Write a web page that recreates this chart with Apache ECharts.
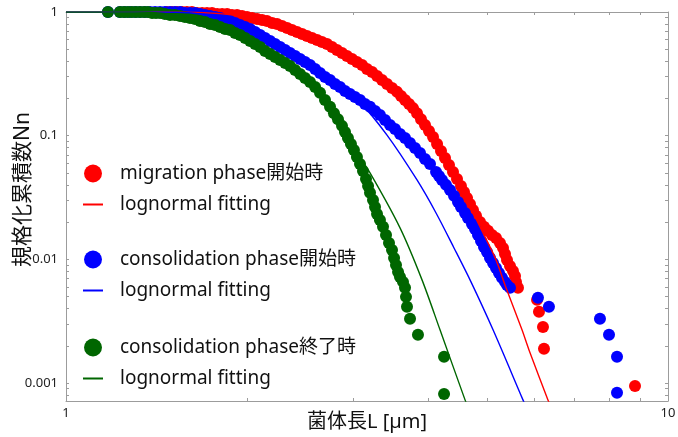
<!DOCTYPE html>
<html>
<head>
<meta charset="utf-8">
<title>規格化累積数</title>
<script src="https://cdn.jsdelivr.net/npm/echarts@6/dist/echarts.min.js"></script>
<style>
  html, body { margin: 0; padding: 0; background: #fff; }
  #chart { width: 678px; height: 437px; }
</style>
</head>
<body>
<div id="chart"></div>
<script>
// [L (µm), Nn]
const migrationStart = [
  [1.471, 1], [1.500, 1], [1.529, 1], [1.559, 1], [1.588, 1], [1.619, 1], [1.651, 0.981], [1.683, 0.981],
  [1.715, 0.981], [1.748, 0.981], [1.783, 0.963], [1.817, 0.963], [1.852, 0.963], [1.887, 0.946], [1.924, 0.946],
  [1.961, 0.928], [1.999, 0.911], [2.038, 0.894], [2.077, 0.878], [2.117, 0.862], [2.157, 0.846], [2.200, 0.815],
  [2.242, 0.800], [2.285, 0.770], [2.330, 0.742], [2.374, 0.715], [2.420, 0.689], [2.467, 0.664], [2.514, 0.640],
  [2.563, 0.616], [2.613, 0.594], [2.662, 0.572], [2.714, 0.551], [2.766, 0.521], [2.819, 0.493], [2.874, 0.466],
  [2.929, 0.441], [2.986, 0.417], [3.043, 0.394], [3.103, 0.373], [3.162, 0.346], [3.224, 0.327], [3.286, 0.304],
  [3.349, 0.282], [3.414, 0.262], [3.480, 0.243], [3.547, 0.226], [3.602, 0.209], [3.657, 0.194], [3.714, 0.180],
  [3.771, 0.167], [3.829, 0.152], [3.888, 0.136], [3.948, 0.122], [4.009, 0.109], [4.071, 0.0977], [4.134, 0.0857],
  [4.197, 0.0752], [4.262, 0.0660], [4.327, 0.0579], [4.394, 0.0509], [4.462, 0.0447], [4.530, 0.0392],
  [4.583, 0.0351], [4.636, 0.0314], [4.689, 0.0280], [4.743, 0.0251], [4.798, 0.0225], [4.872, 0.0200],
  [4.947, 0.0183], [5.023, 0.0170], [5.101, 0.0157], [5.180, 0.0149], [5.259, 0.01357], [5.320, 0.01236],
  [5.361, 0.01105], [5.402, 0.00989], [5.464, 0.00884], [5.527, 0.00806], [5.570, 0.00734], [5.591, 0.00657],
  [5.634, 0.00588], [6.059, 0.00470], [6.105, 0.00376], [6.199, 0.00284], [6.223, 0.00189], [8.814, 0.000947]
]
const consolidationStart = [
  [1.174, 1], [1.229, 1], [1.253, 1], [1.277, 1], [1.302, 1], [1.327, 1], [1.353, 1], [1.379, 1], [1.406, 1],
  [1.433, 1], [1.460, 1], [1.489, 1], [1.517, 1], [1.547, 1], [1.576, 0.981], [1.607, 0.981], [1.638, 0.981],
  [1.670, 0.963], [1.702, 0.946], [1.735, 0.928], [1.769, 0.911], [1.803, 0.894], [1.838, 0.862], [1.873, 0.846],
  [1.909, 0.815], [1.946, 0.785], [1.984, 0.756], [2.022, 0.728], [2.061, 0.689], [2.101, 0.652], [2.141, 0.616],
  [2.183, 0.583], [2.225, 0.551], [2.268, 0.521], [2.312, 0.493], [2.356, 0.466], [2.402, 0.441], [2.448, 0.417],
  [2.495, 0.394], [2.543, 0.373], [2.593, 0.346], [2.642, 0.321], [2.693, 0.298], [2.745, 0.282], [2.798, 0.262],
  [2.852, 0.247], [2.907, 0.230], [2.963, 0.217], [3.020, 0.205], [3.079, 0.194], [3.138, 0.180], [3.199, 0.171],
  [3.261, 0.158], [3.323, 0.147], [3.388, 0.134], [3.453, 0.122], [3.520, 0.113], [3.588, 0.103], [3.657, 0.0958],
  [3.728, 0.0873], [3.800, 0.0795], [3.873, 0.0724], [3.948, 0.0648], [4.024, 0.0590], [4.118, 0.0509],
  [4.165, 0.0472], [4.213, 0.0438], [4.278, 0.0400], [4.344, 0.0364], [4.411, 0.0326], [4.479, 0.0291],
  [4.530, 0.0265], [4.601, 0.0237], [4.653, 0.0216], [4.725, 0.0193], [4.780, 0.0176], [4.835, 0.0157],
  [4.891, 0.01409], [4.947, 0.01259], [5.004, 0.01147], [5.062, 0.01027], [5.121, 0.00935], [5.180, 0.00852],
  [5.239, 0.00776], [5.299, 0.00708], [5.361, 0.00657], [5.402, 0.00621], [5.464, 0.00588],
  [6.081, 0.00488], [6.342, 0.00413], [7.709, 0.00330], [7.980, 0.00245], [8.228, 0.00163], [8.228, 0.000832]
]
const consolidationEnd = [
  [1.174, 1], [1.229, 1], [1.248, 1], [1.267, 1], [1.287, 1], [1.307, 1], [1.327, 1], [1.348, 1], [1.368, 1],
  [1.390, 0.981], [1.411, 0.981], [1.433, 0.981], [1.460, 0.963], [1.489, 0.946], [1.517, 0.946], [1.547, 0.928],
  [1.576, 0.911], [1.607, 0.894], [1.638, 0.878], [1.670, 0.846], [1.702, 0.830], [1.735, 0.800], [1.769, 0.785],
  [1.803, 0.756], [1.838, 0.728], [1.873, 0.715], [1.909, 0.676], [1.946, 0.652], [1.984, 0.616], [2.022, 0.583],
  [2.061, 0.551], [2.101, 0.521], [2.141, 0.484], [2.183, 0.457], [2.225, 0.433], [2.268, 0.409], [2.312, 0.387],
  [2.356, 0.366], [2.402, 0.340], [2.448, 0.315], [2.495, 0.293], [2.543, 0.272], [2.593, 0.247], [2.642, 0.222],
  [2.693, 0.194], [2.745, 0.171], [2.787, 0.152], [2.830, 0.136], [2.874, 0.120], [2.907, 0.107], [2.940, 0.0958],
  [2.974, 0.0857], [3.008, 0.0766], [3.043, 0.0672], [3.079, 0.0590], [3.114, 0.0518], [3.150, 0.0447],
  [3.175, 0.0392], [3.199, 0.0345], [3.236, 0.0302], [3.261, 0.0265], [3.286, 0.0233], [3.323, 0.0208],
  [3.362, 0.0183], [3.401, 0.0157], [3.440, 0.01357], [3.480, 0.01191], [3.507, 0.01027], [3.533, 0.00901],
  [3.561, 0.00791], [3.588, 0.00721], [3.629, 0.00657], [3.657, 0.00588], [3.671, 0.00497], [3.685, 0.00413],
  [3.728, 0.00330], [3.843, 0.00245], [4.246, 0.00163], [4.246, 0.000816]
]

// lognormal fitting curves
const migrationFit = [
  [1, 1], [1.4, 1], [1.6, 0.998], [1.8, 0.97], [2.0, 0.91], [2.2, 0.815], [2.47, 0.664], [2.76, 0.52],
  [3.1, 0.373], [3.48, 0.243], [3.83, 0.152], [4.2, 0.077], [4.51, 0.039], [4.95, 0.0157], [5.18, 0.0099],
  [5.382, 0.00588], [5.721, 0.00269], [5.876, 0.00185], [6.318, 0.00073], [6.36, 0.00068]
]
const consolidationStartFit = [
  [1, 1], [1.4, 0.999], [1.6, 0.985], [1.8, 0.895], [2.0, 0.745], [2.2, 0.575], [2.45, 0.42], [2.75, 0.28],
  [3.08, 0.185], [3.414, 0.101], [3.829, 0.0438], [4.118, 0.0237], [4.411, 0.01236], [4.707, 0.00657],
  [5.121, 0.00269], [5.742, 0.00073], [5.78, 0.00068]
]
const consolidationEndFit = [
  [1, 1], [1.3, 0.999], [1.45, 0.975], [1.6, 0.905], [1.8, 0.765], [2.0, 0.60], [2.2, 0.45], [2.45, 0.315],
  [2.75, 0.171], [2.97, 0.088], [3.199, 0.050], [3.588, 0.01796], [3.903, 0.00682], [4.181, 0.00269],
  [4.601, 0.00073], [4.63, 0.00068]
]

const xLabelValues = [1, 10]
const xTickValues = [1, 2, 3, 4, 5, 6, 7, 8, 9, 10]
const yLabelValues = [0.001, 0.01, 0.1, 1]
const yTickValues = [
  0.0008, 0.0009, 0.001, 0.002, 0.003, 0.004, 0.005, 0.006, 0.007, 0.008, 0.009,
  0.01, 0.02, 0.03, 0.04, 0.05, 0.06, 0.07, 0.08, 0.09,
  0.1, 0.2, 0.3, 0.4, 0.5, 0.6, 0.7, 0.8, 0.9, 1
]

const FONT = "'Noto Sans', 'Noto Sans CJK JP', sans-serif"
const GRAY = '#9c9c9c'
const RED = '#ff0000'
const BLUE = '#0000ff'
const GREEN = '#006600'

const legendNames = {
  fitM: 'lognormal fitting',
  fitCS: 'lognormal fitting',
  fitCE: 'lognormal fitting'
}

function frameAxis(extra) {
  return Object.assign({
    type: 'log',
    logBase: 10,
    nameMoveOverlap: false,
    axisLine: { lineStyle: { color: GRAY, width: 1 } },
    axisTick: { inside: true, length: 3, lineStyle: { color: GRAY } },
    axisLabel: { show: false },
    splitLine: { show: false }
  }, extra)
}

function legendBlock(top, dotName, fitName) {
  return {
    top: top,
    left: 82,
    orient: 'vertical',
    padding: 0,
    itemWidth: 20,
    itemHeight: 18,
    itemGap: 12,
    selectedMode: false,
    // fitting rows show only the line, hide the symbol drawn in the middle
    data: [dotName, { name: fitName, itemStyle: { opacity: 0 } }],
    lineStyle: { width: 2 },
    formatter: name => legendNames[name] || name,
    textStyle: { fontSize: 19, color: '#111', fontFamily: FONT, padding: [0, 0, 0, 12] }
  }
}

function fitSeries(name, data, color) {
  return {
    name: name,
    type: 'line',
    data: data,
    smooth: 0.3,
    symbol: 'none',
    clip: true,
    lineStyle: { color: color, width: 1.4 },
    itemStyle: { color: color },
    emphasis: { disabled: true }
  }
}

function dotSeries(name, data, color) {
  return {
    name: name,
    type: 'scatter',
    data: data,
    symbol: 'circle',
    symbolSize: 12,
    clip: false,
    itemStyle: { color: color, opacity: 1 },
    emphasis: { disabled: true }
  }
}

const chart = echarts.init(document.getElementById('chart'))
chart.setOption({
  animation: false,
  backgroundColor: '#fff',
  grid: { left: 66, right: 10, top: 12, bottom: 36, outerBoundsMode: 'none', containLabel: false },
  legend: [
    legendBlock(164, 'migration phase開始時', 'fitM'),
    legendBlock(250, 'consolidation phase開始時', 'fitCS'),
    legendBlock(338, 'consolidation phase終了時', 'fitCE')
  ],
  xAxis: [
    frameAxis({
      min: 1,
      max: 10,
      position: 'bottom',
      name: '菌体長L [µm]',
      nameLocation: 'middle',
      nameGap: 11,
      nameTextStyle: { fontSize: 20, color: '#111', fontFamily: FONT },
      axisTick: { inside: true, length: 3, customValues: xTickValues, lineStyle: { color: GRAY } },
      axisLabel: {
        show: true,
        customValues: xLabelValues,
        margin: 6,
        fontSize: 13,
        color: '#222',
        fontFamily: FONT,
        formatter: v => String(+(+v).toPrecision(3))
      }
    }),
    frameAxis({
      min: 1,
      max: 10,
      position: 'top',
      axisTick: { inside: true, length: 3, customValues: xTickValues, lineStyle: { color: GRAY } }
    })
  ],
  yAxis: [
    frameAxis({
      min: 0.000715,
      max: 1,
      position: 'left',
      name: '規格化累積数Nn',
      nameLocation: 'middle',
      nameGap: 32,
      nameTextStyle: { fontSize: 21, color: '#111', fontFamily: FONT, padding: [0, 0, 0, 34] },
      axisTick: { inside: true, length: 3, customValues: yTickValues, lineStyle: { color: GRAY } },
      axisLabel: {
        show: true,
        customValues: yLabelValues,
        margin: 8,
        fontSize: 13,
        color: '#222',
        fontFamily: FONT,
        formatter: v => String(+(+v).toPrecision(3))
      }
    }),
    frameAxis({
      min: 0.000715,
      max: 1,
      position: 'right',
      axisTick: { inside: true, length: 3, customValues: yTickValues, lineStyle: { color: GRAY } }
    })
  ],
  series: [
    fitSeries('fitM', migrationFit, RED),
    fitSeries('fitCS', consolidationStartFit, BLUE),
    fitSeries('fitCE', consolidationEndFit, GREEN),
    dotSeries('migration phase開始時', migrationStart, RED),
    dotSeries('consolidation phase開始時', consolidationStart, BLUE),
    dotSeries('consolidation phase終了時', consolidationEnd, GREEN)
  ]
})
</script>
</body>
</html>
